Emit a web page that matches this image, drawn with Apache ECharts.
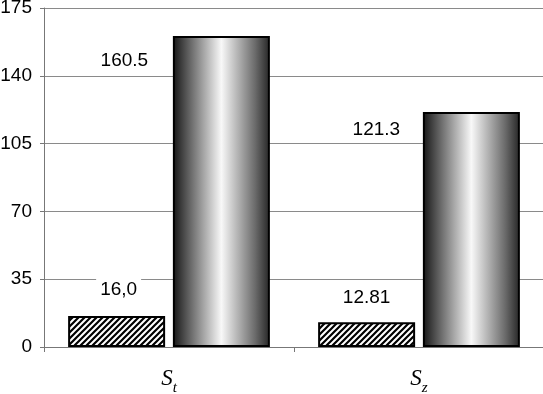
<!DOCTYPE html>
<html>
<head>
<meta charset="utf-8">
<script src="https://cdn.jsdelivr.net/npm/echarts@6/dist/echarts.min.js"></script>
<style>
html,body{margin:0;padding:0;background:#fff;}
#chart{width:543px;height:394px;}
</style>
</head>
<body>
<div id="chart"></div>
<script>
// Data
const categories = ['t', 'z'];
const hatchValues = [16.0, 12.81];
const hatchLabels = ['16,0', '12.81'];
const gradValues = [160.5, 121.3];
const gradLabels = ['160.5', '121.3'];
const yTicks = [0, 35, 70, 105, 140, 175];

// hatch pattern
const pc = document.createElement('canvas');
pc.width = 6; pc.height = 6;
const px = pc.getContext('2d');
px.fillStyle = '#fff';
px.fillRect(0, 0, 6, 6);
px.strokeStyle = '#000';
px.lineWidth = 2.2;
px.beginPath();
px.moveTo(-1, 7); px.lineTo(7, -1);
px.moveTo(-1, 1); px.lineTo(1, -1);
px.moveTo(5, 7); px.lineTo(7, 5);
px.stroke();

const gradFill = new echarts.graphic.LinearGradient(0, 0, 1, 0, [
  {offset: 0, color: '#151515'},
  {offset: 0.15, color: '#5a5a5a'},
  {offset: 0.5, color: '#f8f8f8'},
  {offset: 0.85, color: '#6a6a6a'},
  {offset: 1, color: '#252525'}
]);

const labelBase = {
  show: true,
  position: 'top',
  distance: 5,
  fontFamily: 'Liberation Sans',
  fontSize: 19,
  color: '#000',
  backgroundColor: '#fff',
  padding: [2, 4]
};

const hatchOffsets = [[2, -10], [0, -8]];
const gradOffsets = [[-97, 41], [-95, 34]];

const chart = echarts.init(document.getElementById('chart'), null, {renderer: 'canvas'});
chart.setOption({
  animation: false,
  backgroundColor: '#fff',
  grid: {left: 44, top: 8, width: 500, height: 339, containLabel: false, outerBoundsMode: 'none'},
  xAxis: {
    type: 'category',
    data: categories,
    boundaryGap: true,
    axisLine: {lineStyle: {color: '#777', width: 1}},
    axisTick: {show: true, length: 5, interval: 0, lineStyle: {color: '#777'}},
    axisLabel: {
      margin: 20,
      interval: 0,
      formatter: function (v) { return '{s|S}{sub|' + v + '}'; },
      rich: {
        s: {fontFamily: 'Liberation Serif', fontStyle: 'italic', fontSize: 23, color: '#000', lineHeight: 26, verticalAlign: 'top'},
        sub: {fontFamily: 'Liberation Serif', fontStyle: 'italic', fontSize: 15, color: '#000', lineHeight: 26, verticalAlign: 'top', padding: [14, 0, 0, 0]}
      }
    }
  },
  yAxis: {
    type: 'value',
    min: yTicks[0],
    max: yTicks[yTicks.length - 1],
    interval: 35,
    axisLine: {show: true, lineStyle: {color: '#777', width: 1}},
    axisTick: {show: true, length: 4, lineStyle: {color: '#777'}},
    splitLine: {show: true, lineStyle: {color: '#8a8a8a', width: 1}},
    axisLabel: {margin: 12, fontFamily: 'Liberation Sans', fontSize: 19, color: '#000'}
  },
  series: [
    {
      type: 'bar',
      barWidth: 97,
      barGap: '8%',
      data: hatchValues.map((v, i) => ({
        value: v,
        label: Object.assign({}, labelBase, {offset: hatchOffsets[i], formatter: hatchLabels[i]})
      })),
      itemStyle: {color: {image: pc, repeat: 'repeat'}, borderColor: '#000', borderWidth: 2}
    },
    {
      type: 'bar',
      barWidth: 97,
      data: gradValues.map((v, i) => ({
        value: v,
        label: Object.assign({}, labelBase, {offset: gradOffsets[i], formatter: gradLabels[i]})
      })),
      itemStyle: {color: gradFill, borderColor: '#000', borderWidth: 2}
    }
  ]
});
</script>
</body>
</html>
